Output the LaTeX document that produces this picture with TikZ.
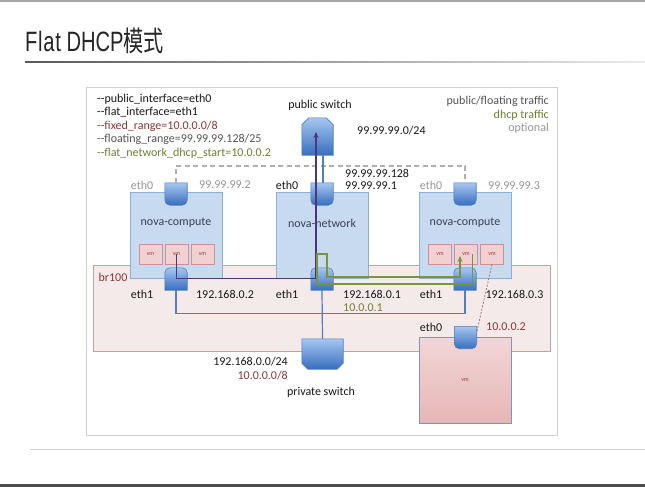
\documentclass[tikz,border=0pt]{standalone}
\usepackage{fontspec}
\setmainfont{Carlito}
\newfontfamily\titlefont{Liberation Sans}
\newfontfamily\cjkfont{Noto Sans CJK SC}
\usetikzlibrary{arrows.meta}
\definecolor{boxfill}{RGB}{200,218,240}
\definecolor{boxborder}{RGB}{140,175,215}
\definecolor{boxtext}{RGB}{55,65,90}
\definecolor{vmfill}{RGB}{240,208,208}
\definecolor{vmborder}{RGB}{205,145,145}
\definecolor{vmtext}{RGB}{160,60,60}
\definecolor{brfill}{RGB}{244,234,234}
\definecolor{brborder}{RGB}{200,160,160}
\definecolor{porttop}{RGB}{165,198,240}
\definecolor{portbot}{RGB}{55,110,190}
\definecolor{portborder}{RGB}{80,125,185}
\definecolor{txtblack}{RGB}{25,25,25}
\definecolor{dred}{RGB}{140,55,55}
\definecolor{fgray}{RGB}{85,85,85}
\definecolor{olive}{RGB}{110,128,50}
\definecolor{lgray}{RGB}{150,150,150}
\definecolor{purl}{RGB}{75,55,125}
\definecolor{greenl}{RGB}{119,150,60}
\definecolor{bluel}{RGB}{79,129,189}
\definecolor{optgray}{RGB}{175,175,175}
\definecolor{bigvmtop}{RGB}{242,214,214}
\definecolor{bigvmbot}{RGB}{230,182,182}
\definecolor{bigvmborder}{RGB}{135,145,185}
\newcommand{\ethdown}[1]{\shadedraw[portshade] (#1.north west) -- (#1.north east) -- ([yshift=5pt]#1.south east) arc[start angle=0,end angle=-90,radius=5pt] -- ([xshift=5pt]#1.south west) arc[start angle=270,end angle=180,radius=5pt] -- cycle;}
\newcommand{\ethup}[1]{\shadedraw[portshade] (#1.south west) -- ([yshift=-5pt]#1.north west) arc[start angle=180,end angle=90,radius=5pt] -- ([xshift=-5pt]#1.north east) arc[start angle=90,end angle=0,radius=5pt] -- (#1.south east) -- cycle;}
\begin{document}
\begin{tikzpicture}[x=1pt,y=1pt,
  lbl/.style={font=\fontsize{12}{14}\selectfont, inner sep=0pt, text=txtblack},
  novabox/.style={draw=boxborder, fill=boxfill, line width=0.8pt, minimum width=92pt, minimum height=86pt, inner sep=0pt},
  vmsmall/.style={draw=vmborder, fill=vmfill, line width=0.6pt, minimum width=23pt, minimum height=20pt, inner sep=0pt, font=\fontsize{6}{6}\selectfont, text=vmtext},
  portnode/.style={minimum width=22pt, minimum height=22pt, inner sep=0pt},
  portshade/.style={top color=porttop, bottom color=portbot, draw=portborder, line width=0.6pt},
  publine/.style={draw=purl, line width=1.4pt},
  dhcpline/.style={draw=greenl, line width=1.6pt},
  netline/.style={draw=bluel, line width=1.2pt},
  optline/.style={draw=optgray, line width=1.8pt, dash pattern=on 5pt off 3.5pt},
  redline/.style={draw=vmborder!80!black, line width=0.8pt, dash pattern=on 2pt off 1.5pt},
  tip/.style={-{Stealth[length=6pt,width=5pt]}}
]
\useasboundingbox (0,0) rectangle (645,-487);
\fill[white] (0,0) rectangle (645,-487);
% slide decorations
\draw[line width=1.5pt, draw=black!35] (0,-0.8) -- (645,-0.8);
\fill[black!70] (0,-484) rectangle (645,-487);
\draw[line width=0.8pt, draw=black!18] (30,-449) -- (645,-449);
\node[anchor=base west, inner sep=0pt, text=black!85] (title) at (25,-52)
  {\scalebox{0.72}[1]{\fontsize{28}{30}\selectfont\titlefont F\kern1pt l\kern1pt a\kern1pt t DHCP\cjkfont 模式}};
\shade[left color=black!65, right color=black!8] (25,-61.2) rectangle (645,-62.8);
% frame
\draw[draw=black!18, line width=0.7pt] (86,-87) rectangle (557,-435);
% config text
\node[lbl, anchor=west] (cfg1) at (97,-99) {-{}-public\_interface=eth0};
\node[lbl, anchor=west] (cfg2) at (97,-112.5) {-{}-flat\_interface=eth1};
\node[lbl, anchor=west, text=dred] (cfg3) at (97,-126) {-{}-fixed\_range=10.0.0.0/8};
\node[lbl, anchor=west, text=fgray] (cfg4) at (97,-139.5) {-{}-floating\_range=99.99.99.128/25};
\node[lbl, anchor=west, text=olive] (cfg5) at (97,-153) {-{}-flat\_network\_dhcp\_start=10.0.0.2};
% legend
\node[lbl, anchor=east, text=fgray] (leg1) at (549,-101) {public/floating traffic};
\node[lbl, anchor=east, text=olive] (leg2) at (549,-115) {dhcp traffic};
\node[lbl, anchor=east, text=lgray] (leg3) at (549,-128.5) {optional};
% br100
\node[draw=brborder, fill=brfill, line width=0.8pt, minimum width=457pt, minimum height=86pt, inner sep=0pt] (br) at (321.5,-308) {};
\node[lbl, text=dred] (brlbl) at (113,-277) {br100};
% public switch
\node[portnode, minimum width=31pt, minimum height=37pt] (pubsw) at (317.5,-136.5) {};
\shadedraw[portshade] (pubsw.south west) -- ([yshift=-7pt]pubsw.north west) -- ([xshift=7pt]pubsw.north west) -- ([xshift=-7pt]pubsw.north east) -- ([yshift=-7pt]pubsw.north east) -- (pubsw.south east) -- cycle;
\node[lbl] (pubswlbl) at (320,-105) {public switch};
\node[lbl, anchor=west] (pubnet) at (357,-131) {99.99.99.0/24};
% nova boxes
\node[novabox] (cl) at (176,-235) {};
\node[novabox] (netbox) at (322,-235) {};
\node[novabox] (cr) at (465,-235) {};
\node[lbl, text=boxtext] (cltxt) at (176,-223) {nova-compute};
\node[lbl, text=boxtext] (nettxt) at (322,-223) {nova-network};
\node[lbl, text=boxtext] (crtxt) at (465,-223) {nova-compute};
% small vms
\node[vmsmall] (vmL1) at (150.5,-254) {vm};
\node[vmsmall] (vmL2) at (176.5,-254) {vm};
\node[vmsmall] (vmL3) at (202.5,-254) {vm};
\node[vmsmall] (vmR1) at (440,-254) {vm};
\node[vmsmall] (vmR2) at (466,-254) {vm};
\node[vmsmall] (vmR3) at (492,-254) {vm};
% ports
\node[portnode] (ceth0L) at (176,-194) {};
\node[portnode] (neteth0) at (322,-194) {};
\node[portnode] (ceth0R) at (465,-194) {};
\node[portnode] (ceth1L) at (176,-279) {};
\node[portnode] (neteth1) at (322,-279) {};
\node[portnode] (ceth1R) at (465,-279) {};
\ethdown{ceth0L}\ethdown{neteth0}\ethdown{ceth0R}
\ethup{ceth1L}\ethup{neteth1}\ethup{ceth1R}
% private switch
\node[portnode, minimum width=41pt, minimum height=30pt] (privsw) at (322.5,-354) {};
\shadedraw[portshade] (privsw.north west) -- (privsw.north east) -- ([yshift=6pt]privsw.south east) -- ([xshift=-6pt]privsw.south east) -- ([xshift=6pt]privsw.south west) -- ([yshift=6pt]privsw.south west) -- cycle;
\node[lbl] (privlbl) at (321,-392) {private switch};
\node[lbl, anchor=east] (privnet1) at (288,-362) {192.168.0.0/24};
\node[lbl, anchor=east, text=dred] (privnet2) at (288,-376) {10.0.0.0/8};
% big vm
\node[draw=bigvmborder, top color=bigvmtop, bottom color=bigvmbot, line width=0.8pt, minimum width=92pt, minimum height=86pt, inner sep=0pt, font=\fontsize{6}{6}\selectfont, text=vmtext] (bigvm) at (465,-380) {vm};
\node[portnode] (vmeth0) at (465.5,-337.5) {};
\ethdown{vmeth0}
% interface labels
\node[lbl, text=lgray] (l1) at (142,-185) {eth0};
\node[lbl, text=lgray] (l2) at (225,-185) {99.99.99.2};
\node[lbl] (l3) at (287,-185) {eth0};
\node[lbl, anchor=west] (l4) at (345,-173) {99.99.99.128};
\node[lbl, anchor=west] (l5) at (345,-186) {99.99.99.1};
\node[lbl, text=lgray] (l6) at (431,-185) {eth0};
\node[lbl, text=lgray] (l7) at (514,-186) {99.99.99.3};
\node[lbl] (l8) at (142,-294.5) {eth1};
\node[lbl] (l9) at (225,-294.5) {192.168.0.2};
\node[lbl] (l10) at (287,-294.5) {eth1};
\node[lbl, anchor=west] (l11) at (343,-294.5) {192.168.0.1};
\node[lbl, anchor=west, text=olive] (l12) at (343,-308) {10.0.0.1};
\node[lbl] (l13) at (431,-294.5) {eth1};
\node[lbl] (l14) at (514.5,-294.5) {192.168.0.3};
\node[lbl] (l15) at (431,-327) {eth0};
\node[lbl, anchor=west, text=dred] (l16) at (486,-327) {10.0.0.2};
% connectors
\draw[optline] (ceth0L.north) -- ++(0,17) -| (ceth0R.north);
\draw[netline] ([xshift=5.5pt]pubsw.south) -- ([xshift=1pt]neteth0.north);
\draw[netline] (ceth1L.south) -- ++(0,-23) -| (ceth1R.south);
\draw[netline] (neteth1.south) -- (privsw.north);
\draw[publine, tip] (vmL2.center) |- ([xshift=-6pt]netbox.south) -- ([xshift=-1.5pt,yshift=4.5pt]pubsw.center);
\draw[dhcpline, tip] ([xshift=6.5pt]vmR2.center) |- ([xshift=-5pt,yshift=-5pt]neteth1.center) -- ([xshift=-5pt,yshift=25pt]neteth1.center) -- ([xshift=5pt,yshift=25pt]neteth1.center) -- ([xshift=5pt,yshift=2pt]neteth1.center) -| ([xshift=-6pt,yshift=-2pt]vmR2.center);
\draw[redline] (vmR3.south) -- ([yshift=-6pt]vmeth0.north east);
\end{tikzpicture}
\end{document}
